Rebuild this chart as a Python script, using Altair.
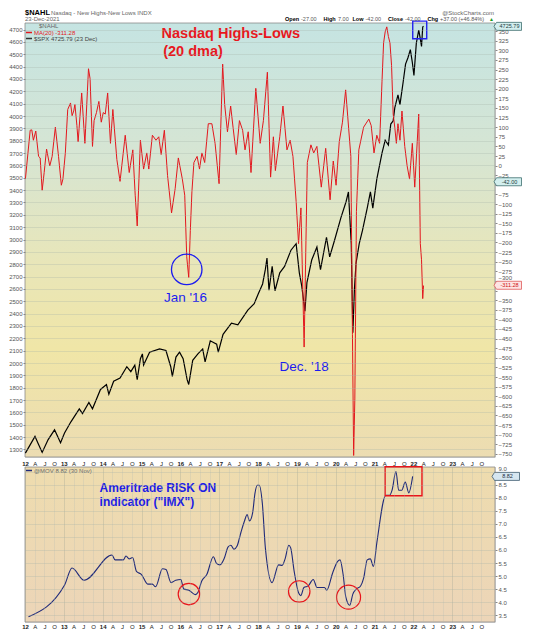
import altair as alt
import pandas as pd

# ---------------- data ----------------
nahl_t = [2012.01, 2012.13, 2012.17, 2012.21, 2012.27, 2012.34, 2012.38, 2012.43, 2012.48, 2012.54,
          2012.62, 2012.68, 2012.76, 2012.84, 2012.91, 2012.95, 2013.01, 2013.07, 2013.14, 2013.18,
          2013.22, 2013.25, 2013.30, 2013.33, 2013.42, 2013.50, 2013.59, 2013.63, 2013.69, 2013.73,
          2013.79, 2013.85, 2013.91, 2013.96, 2014.01, 2014.07, 2014.14, 2014.20, 2014.30, 2014.38,
          2014.51, 2014.61, 2014.70, 2014.76, 2014.81, 2014.89, 2014.97, 2015.05, 2015.10, 2015.19,
          2015.28, 2015.35, 2015.41, 2015.49, 2015.57, 2015.67, 2015.76, 2015.84, 2015.94, 2016.00,
          2016.05, 2016.10, 2016.14, 2016.18, 2016.23, 2016.31, 2016.37, 2016.43, 2016.50, 2016.59,
          2016.68, 2016.76, 2016.86, 2016.95, 2017.00, 2017.07, 2017.15, 2017.21, 2017.29, 2017.37,
          2017.45, 2017.51, 2017.59, 2017.66, 2017.78, 2017.89, 2017.97, 2018.07, 2018.15, 2018.22,
          2018.27, 2018.38, 2018.46, 2018.56, 2018.64, 2018.71, 2018.79, 2018.85, 2018.91, 2018.99,
          2019.07, 2019.16, 2019.23, 2019.31, 2019.42, 2019.53, 2019.64, 2019.72, 2019.79, 2019.87,
          2019.95, 2020.03, 2020.16, 2020.20, 2020.23, 2020.26, 2020.30, 2020.36, 2020.48, 2020.61,
          2020.67, 2020.74, 2020.81, 2020.88, 2020.94, 2020.98, 2021.02, 2021.06, 2021.10, 2021.14,
          2021.18, 2021.22, 2021.26, 2021.30, 2021.34, 2021.39, 2021.44, 2021.51, 2021.57, 2021.63,
          2021.70, 2021.76, 2021.86, 2021.90, 2021.93, 2021.96, 2021.98]
nahl_v = [-35, 92, 93, 66, 90, 24, 20, -64, -18, 43,
          -1, 24, 100, 24, -51, -35, 33, 146, 163, 130,
          142, 159, 104, 62, 189, 58, 252, 226, 50, 117,
          138, 167, 113, 138, 134, 189, 58, 146, 16, -41,
          79, -18, 41, -77, -157, 66, -9, 33, -9, 79,
          66, 75, 29, 92, -26, -123, -60, 20, -35, -77,
          -237, -291, -169, -68, 8, 24, -9, 33, 8, 109,
          109, 58, -47, 264, 159, 88, 155, 100, 29, 117,
          92, 41, 88, -18, 201, 58, 117, 243, -30, 75,
          -13, 75, 155, 41, 66, 24, -93, -203, -110, -472,
          8, 54, 33, 50, -56, 45, -89, 12, -51, 62,
          113, 197, 24, -439, -754, -607, -119, 41, 100, 121,
          104, 33, 79, 58, 218, 319, 348, 361, 336, 319,
          260, 134, 100, 58, 109, 66, 142, 50, -1, -35,
          58, -56, 134, -203, -245, -346, -312]

spx_t = [2012.01, 2012.25, 2012.32, 2012.43, 2012.58, 2012.74, 2012.89, 2012.99, 2013.15, 2013.36,
         2013.44, 2013.60, 2013.69, 2013.89, 2014.04, 2014.10, 2014.22, 2014.38, 2014.55, 2014.65,
         2014.75, 2014.81, 2014.89, 2014.94, 2014.97, 2015.12, 2015.37, 2015.53, 2015.65, 2015.69,
         2015.78, 2015.87, 2015.96, 2016.06, 2016.10, 2016.20, 2016.33, 2016.45, 2016.51, 2016.64,
         2016.80, 2016.84, 2016.96, 2017.17, 2017.33, 2017.58, 2017.74, 2017.84, 2017.95, 2018.02,
         2018.06, 2018.11, 2018.19, 2018.26, 2018.38, 2018.50, 2018.66, 2018.79, 2018.87, 2018.93,
         2019.01, 2019.06, 2019.18, 2019.31, 2019.40, 2019.55, 2019.63, 2019.75, 2019.91, 2020.04,
         2020.10, 2020.17, 2020.21, 2020.25, 2020.29, 2020.37, 2020.45, 2020.57, 2020.65, 2020.71,
         2020.81, 2020.94, 2021.02, 2021.10, 2021.16, 2021.22, 2021.26, 2021.34, 2021.39, 2021.47,
         2021.53, 2021.59, 2021.65, 2021.70, 2021.74, 2021.80, 2021.86, 2021.89, 2021.93, 2021.96,
         2021.98]
spx_v = [1270, 1406, 1354, 1276, 1380, 1459, 1354, 1433, 1524, 1629,
         1590, 1681, 1629, 1786, 1826, 1747, 1852, 1878, 1970, 1930,
         1983, 1865, 2035, 2074, 1983, 2088, 2114, 2101, 1970, 1891,
         2048, 2088, 2035, 1865, 1826, 2022, 2074, 2114, 2009, 2180,
         2153, 2088, 2232, 2323, 2310, 2428, 2481, 2559, 2640, 2760,
         2850, 2590, 2782, 2585, 2730, 2782, 2913, 2966, 2730, 2625,
         2420, 2651, 2834, 2939, 2756, 3018, 2860, 2992, 3175, 3306,
         3385, 2966, 2245, 2600, 2809, 2966, 3071, 3254, 3385, 3254,
         3489, 3699, 3804, 3765, 3935, 3961, 4066, 4171, 4092, 4275,
         4420, 4472, 4538, 4433, 4328, 4590, 4695, 4643, 4564, 4721,
         4726]

imx_t = [2012.09, 2013.02, 2013.21, 2013.52, 2014.24, 2014.32, 2014.53, 2014.60, 2014.68, 2014.77,
         2014.87, 2015.00, 2015.16, 2015.28, 2015.36, 2015.54, 2015.63, 2015.76, 2015.88, 2016.01,
         2016.09, 2016.22, 2016.39, 2016.45, 2016.55, 2016.68, 2016.85, 2016.93, 2017.02, 2017.13,
         2017.23, 2017.30, 2017.38, 2017.46, 2017.56, 2017.65, 2017.72, 2017.78, 2017.86, 2017.92,
         2017.98, 2018.03, 2018.11, 2018.19, 2018.36, 2018.53, 2018.62, 2018.70, 2018.79, 2018.84,
         2018.93, 2019.04, 2019.10, 2019.18, 2019.29, 2019.42, 2019.52, 2019.71, 2019.77, 2019.92,
         2020.05, 2020.11, 2020.19, 2020.26, 2020.36, 2020.44, 2020.53, 2020.64, 2020.72, 2020.81,
         2020.89, 2020.97, 2021.06, 2021.29, 2021.39, 2021.45, 2021.55, 2021.62, 2021.70, 2021.79,
         2021.88, 2021.98]
imx_v = [3.44, 4.66, 5.31, 4.84, 5.81, 5.62, 5.62, 5.77, 5.66, 5.71,
         5.18, 5.06, 4.69, 4.69, 4.59, 5.28, 5.25, 4.75, 4.84, 4.87,
         4.50, 4.46, 4.29, 4.37, 4.81, 5.06, 5.74, 5.49, 5.43, 5.68,
         6.12, 6.18, 6.03, 6.15, 6.68, 7.11, 7.36, 7.11, 7.42, 8.17,
         8.48, 8.48, 7.79, 6.05, 4.75, 5.43, 5.41, 5.68, 6.18, 6.08,
         5.18, 4.37, 4.25, 4.56, 4.62, 4.87, 4.56, 4.56, 4.46, 5.12,
         5.56, 5.62, 5.06, 4.19, 3.88, 4.31, 4.50, 4.62, 4.93, 5.62,
         5.66, 5.37, 6.30, 8.10, 8.10, 8.29, 9.01, 8.29, 8.29, 8.60,
         8.19, 8.82]

spx_last = 4725.79
nahl_close = -42.00
nahl_ma = -311.28
imx_last = 8.82

spx_ticks = list(range(1300, 4701, 100))
nahl_ticks = list(range(-750, 351, 25))
imx_ticks = [3.5 + 0.5 * i for i in range(12)]
quarters = [2012 + 0.25 * i for i in range(48)]

# annotation anchors (data units)
jan16_circle = {"t": 2016.05, "v": -270}
jan16_text = {"t": 2016.02, "v": -344, "label": "Jan '16"}
dec18_text = {"t": 2018.99, "v": -523, "label": "Dec. '18"}
top_box = {"t": 2021.71, "t2": 2022.06, "v": 330, "v2": 376}
title1 = {"t": 2015.42, "v": 342, "label": "Nasdaq Highs-Lows"}
title2 = {"t": 2015.46, "v": 295, "label": "(20 dma)"}
low_circles = [{"t": 2016.22, "v": 4.31, "s": 460}, {"t": 2019.06, "v": 4.41, "s": 460},
               {"t": 2020.33, "v": 4.19, "s": 575}]
low_box = {"t": 2021.27, "t2": 2022.22, "v": 8.08, "v2": 9.19}
low_text1 = {"t": 2013.92, "v": 8.39, "label": "Ameritrade RISK ON"}
low_text2 = {"t": 2013.92, "v": 7.83, "label": 'indicator ("IMX")'}

# ---------------- layout ----------------
FONT = "Liberation Sans"
W, H1, H2 = 470, 434, 155
X1 = [2012.0, 2023.77]
X2 = [2012.0, 2024.10]
D_SPX = [1239, 4753]
D_NAHL = [-758, 371]
D_IMX = [3.24, 9.18]


def sc(dom):
    return alt.Scale(domain=dom, nice=False, zero=False)


grid_color = {"condition": {"test": "datum.value % 1 == 0", "value": "#8d9a90"}, "value": "#b3bdb3"}
year_bold = {"condition": {"test": "datum.value % 1 == 0", "value": "bold"}, "value": "normal"}
lab_expr = ("datum.value % 1 == 0 ? slice(toString(datum.value), 2) : "
            "(datum.value % 1 < 0.3 ? 'A' : (datum.value % 1 < 0.6 ? 'J' : 'O'))")

one = alt.Data(values=[{}])


def ptext(txt, x, y, size=6, color="#555555", weight="normal", align="left", baseline="middle"):
    return alt.Chart(alt.Data(values=[{"t": txt}])).mark_text(
        align=align, baseline=baseline, fontSize=size, fontWeight=weight, color=color, font=FONT
    ).encode(x=alt.value(x), y=alt.value(y), text="t:N")


def prule(x1, x2, y, color, width=1.5):
    return alt.Chart(one).mark_rule(color=color, strokeWidth=width).encode(
        x=alt.value(x1), x2=alt.value(x2), y=alt.value(y))


TAG = "M-1.2,0L-1,-0.32L1,-0.32L1,0.32L-1,0.32Z"


def tag(value, label, dom, fill, stroke, tcolor, xc):
    d = alt.Data(values=[{"v": value, "lab": label}])
    box = alt.Chart(d).mark_point(shape=TAG, size=625, filled=True, fill=fill, stroke=stroke,
                                  strokeWidth=0.8, opacity=1).encode(
        x=alt.value(xc), y=alt.Y("v:Q", scale=sc(dom), axis=None))
    txt = alt.Chart(d).mark_text(fontSize=5.5, color=tcolor, font=FONT, align="center",
                                 baseline="middle").encode(
        x=alt.value(xc + 0.5), y=alt.Y("v:Q", scale=sc(dom), axis=None), text="lab:N")
    return [box, txt]


def yaxis(orient, values, expr, grid, nudge_test=None):
    kw = dict(orient=orient, values=values, labelExpr=expr, ticks=True, tickSize=2,
              tickColor="#888888", labelFontSize=6, labelColor="#555555", labelPadding=1,
              domain=False, title=None)
    if nudge_test:
        # label that sits right next to a value tag is lifted a little, as in the reference
        kw.update(labelOffset={"condition": {"test": nudge_test, "value": -3}, "value": 0})
    if grid:
        kw.update(grid=True, gridColor="#a6b1a7", gridOpacity=0.5, gridWidth=0.6, zindex=1)
    else:
        kw.update(grid=False)
    return alt.Axis(**kw)


# ---------------- top panel ----------------
grad_top = alt.LinearGradient(gradient="linear", x1=0, x2=0, y1=0, y2=1, stops=[
    alt.GradientStop(color="#c5e4e2", offset=0),
    alt.GradientStop(color="#d6e5d3", offset=0.3),
    alt.GradientStop(color="#e8e6b9", offset=0.55),
    alt.GradientStop(color="#f0e6a7", offset=0.75),
    alt.GradientStop(color="#ecdcb2", offset=1)])
bg1 = alt.Chart(one).mark_rect(fill=grad_top, stroke="#8c8c8c", strokeWidth=0.8).encode(
    x=alt.value(0), x2=alt.value(W), y=alt.value(0), y2=alt.value(H1))

spx_df = pd.DataFrame({"t": spx_t, "v": spx_v})
nahl_df = pd.DataFrame({"t": nahl_t, "v": nahl_v})
imx_df = pd.DataFrame({"t": imx_t, "v": imx_v})

xs1 = alt.Scale(domain=X1, nice=False, zero=False)
xs2 = alt.Scale(domain=X2, nice=False, zero=False)

spx_line = alt.Chart(spx_df).mark_line(color="#000000", strokeWidth=1.2).encode(
    x=alt.X("t:Q", scale=xs1, axis=alt.Axis(
        values=quarters, labels=False, ticks=False, domain=False, grid=True,
        gridColor=grid_color, gridOpacity=0.55, gridWidth=0.6, title=None, zindex=1)),
    y=alt.Y("v:Q", scale=sc(D_SPX), axis=yaxis("left", spx_ticks, "format(datum.value, 'd')", True)))

# labels hidden behind the value tags in the reference are left blank
nahl_expr = "(datum.value == -50 || datum.value == -325) ? '' : format(datum.value, 'd')"
nahl_line = alt.Chart(nahl_df).mark_line(color="#e3171d", strokeWidth=1.0).encode(
    x=alt.X("t:Q", scale=xs1, axis=None),
    y=alt.Y("v:Q", scale=sc(D_NAHL), axis=yaxis("right", nahl_ticks, nahl_expr, False,
                                                  nudge_test="datum.value == -300")))


def dtext(d, size, color, weight="normal", align="left"):
    return alt.Chart(alt.Data(values=[d])).mark_text(
        fontSize=size, color=color, fontWeight=weight, align=align, baseline="middle", font=FONT
    ).encode(x=alt.X("t:Q", scale=xs1, axis=None), y=alt.Y("v:Q", scale=sc(D_NAHL), axis=None),
             text="label:N")


jan_circ = alt.Chart(alt.Data(values=[jan16_circle])).mark_point(
    shape="circle", size=930, filled=False, stroke="#1c1cf0", strokeWidth=1.3, opacity=1).encode(
    x=alt.X("t:Q", scale=xs1, axis=None), y=alt.Y("v:Q", scale=sc(D_NAHL), axis=None))
box_top = alt.Chart(alt.Data(values=[top_box])).mark_rect(
    fillOpacity=0, stroke="#2323ee", strokeWidth=1.4).encode(
    x=alt.X("t:Q", scale=xs1, axis=None), x2="t2:Q",
    y=alt.Y("v:Q", scale=sc(D_NAHL), axis=None), y2="v2:Q")

HS = 5.5
header = [
    ptext("$NAHL", 0, -10.5, size=7.5, color="#000000", weight="bold"),
    ptext("Nasdaq - New Highs-New Lows INDX", 26, -10.5, size=6, color="#666666"),
    ptext("@StockCharts.com", W - 1, -10.5, size=6, color="#666666", align="right"),
    ptext("23-Dec-2021", 0, -4, size=6, color="#666666"),
    ptext("Open", 260, -4, size=HS, color="#000000", weight="bold"),
    ptext("-27.00", 276, -4, size=HS),
    ptext("High", 298.5, -4, size=HS, color="#000000", weight="bold"),
    ptext("7.00", 313, -4, size=HS),
    ptext("Low", 327.5, -4, size=HS, color="#000000", weight="bold"),
    ptext("-42.00", 340.5, -4, size=HS),
    ptext("Close", 363, -4, size=HS, color="#000000", weight="bold"),
    ptext("-42.00", 380, -4, size=HS),
    ptext("Chg", 402.5, -4, size=HS, color="#000000", weight="bold"),
    ptext("+37.00 (+46.84%)", 415, -4, size=HS),
    ptext("\u25b2", 464, -4, size=5, color="#1a9a1a"),
    ptext("$NAHL", 14, 3, size=6, color="#666666"),
    prule(1, 7, 9.5, "#e3171d"),
    ptext("MA(20) -311.28", 9, 9.5, size=6, color="#e3171d"),
    prule(1, 7, 15.5, "#333333"),
    ptext("$SPX 4725.79 (23 Dec)", 9, 15.5, size=6, color="#444444"),
]

top = alt.layer(
    bg1, spx_line, nahl_line, jan_circ, box_top,
    dtext(jan16_text, 13.5, "#1c1cf0", align="center"),
    dtext(dec18_text, 13.5, "#1c1cf0", align="center"),
    dtext(title1, 14.5, "#e8171d", weight="bold"),
    dtext(title2, 14.5, "#e8171d", weight="bold"),
    *tag(spx_last, "4725.79", D_SPX, "#d3efef", "#3d6e6e", "#1d3d3d", W + 14),
    *tag(nahl_close, "-42.00", D_NAHL, "#d3efef", "#3d6e6e", "#1d3d3d", W + 14),
    *tag(nahl_ma, "-311.28", D_NAHL, "#fde4e4", "#e05a5a", "#d01010", W + 14),
    *header,
).resolve_scale(y="independent").properties(width=W, height=H1)

# ---------------- lower panel ----------------
grad_low = alt.LinearGradient(gradient="linear", x1=0, x2=0, y1=0, y2=1, stops=[
    alt.GradientStop(color="#eedcae", offset=0),
    alt.GradientStop(color="#ecd5b8", offset=1)])
bg2 = alt.Chart(one).mark_rect(fill=grad_low, stroke="#8c8c8c", strokeWidth=0.8).encode(
    x=alt.value(0), x2=alt.value(W), y=alt.value(0), y2=alt.value(H2))

xaxis_common = dict(values=quarters, labelExpr=lab_expr, labelFontSize=6, labelFontWeight=year_bold,
                    labelColor="#222222", labelPadding=1, ticks=False, domain=False, title=None,
                    labelFlush=False, labelOverlap=False)

imx_line = alt.Chart(imx_df).mark_line(color="#1f2a7a", strokeWidth=1.1, interpolate="monotone").encode(
    x=alt.X("t:Q", scale=xs2, axis=alt.Axis(orient="top", grid=False, **xaxis_common)),
    y=alt.Y("v:Q", scale=sc(D_IMX), axis=yaxis("right", imx_ticks, "format(datum.value, '.1f')", True,
                                                nudge_test="datum.value == 9")))

circ_low = alt.Chart(alt.Data(values=low_circles)).mark_point(
    shape="circle", filled=False, stroke="#e8141a", strokeWidth=1.2, opacity=1).encode(
    x=alt.X("t:Q", scale=xs2, axis=alt.Axis(orient="bottom", grid=True, gridColor=grid_color,
                                            gridOpacity=0.45, gridWidth=0.6, zindex=1, **xaxis_common)),
    y=alt.Y("v:Q", scale=sc(D_IMX), axis=None),
    size=alt.Size("s:Q", scale=None, legend=None))

box_low = alt.Chart(alt.Data(values=[low_box])).mark_rect(
    fillOpacity=0, stroke="#e8141a", strokeWidth=1.4).encode(
    x=alt.X("t:Q", scale=xs2, axis=None), x2="t2:Q",
    y=alt.Y("v:Q", scale=sc(D_IMX), axis=None), y2="v2:Q")


def ltext(d):
    return alt.Chart(alt.Data(values=[d])).mark_text(
        fontSize=12, color="#1c1ce6", fontWeight="bold", align="left", baseline="middle", font=FONT
    ).encode(x=alt.X("t:Q", scale=xs2, axis=None), y=alt.Y("v:Q", scale=sc(D_IMX), axis=None),
             text="label:N")


low_legend = [prule(1, 7, 3.5, "#1f2a7a"), ptext("@MOV 8.82 (30 Nov)", 9, 3.5, size=6, color="#666666")]

bottom = alt.layer(
    bg2, imx_line, circ_low, box_low, ltext(low_text1), ltext(low_text2),
    *tag(imx_last, "8.82", D_IMX, "#d6e6f0", "#3d5a6e", "#1d2d3d", W + 12),
    *low_legend,
).resolve_scale(y="independent").resolve_axis(x="independent").properties(width=W, height=H2)

chart = alt.vconcat(top, bottom, spacing=10, bounds="flush").properties(
    padding={"left": 0, "top": 0, "right": 0, "bottom": 0}
).configure_view(strokeWidth=0).configure(font=FONT).configure_axis(labelFont=FONT)

chart.save("out.html", embed_options={"renderer": "svg", "actions": False})
